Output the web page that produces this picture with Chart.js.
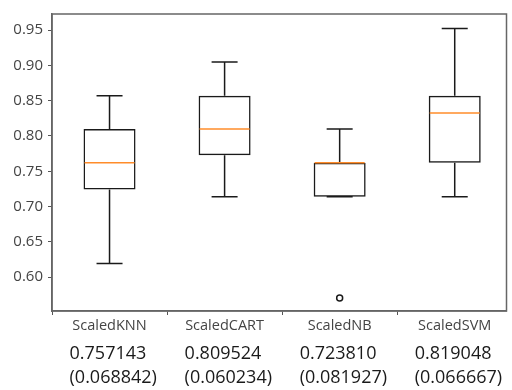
<!DOCTYPE html>
<html><head><meta charset="utf-8">
<script src="https://cdn.jsdelivr.net/npm/chart.js@4"></script>
<style>html,body{margin:0;padding:0;background:#fff;overflow:hidden;width:512px;height:390px}</style>
</head><body><canvas id="c" width="512" height="390"></canvas>
<script>
const categories = ['ScaledKNN','ScaledCART','ScaledNB','ScaledSVM'];
const whiskerLow  = [0.619, 0.714, 0.714, 0.714];
const q1          = [0.724, 0.7726, 0.714, 0.762];
const median      = [0.762, 0.810, 0.762, 0.8325];
const q3          = [0.810, 0.857, 0.762, 0.857];
const whiskerHigh = [0.857, 0.905, 0.810, 0.9524];
const outliers    = [null, null, 0.5704, null];
const means = ['0.757143','0.809524','0.723810','0.819048'];
const stds  = ['(0.068842)','(0.060234)','(0.081927)','(0.066667)'];
const yTicks = [0.60,0.65,0.70,0.75,0.80,0.85,0.90,0.95];
const xPositions = [1,2,3,4];
const yMin = 0.5518, yMax = 0.973;
const xMin = 0.5, xMax = 4.45;

const boxPlugin = {
  id:'boxes',
  afterDatasetsDraw(chart){
    const ctx = chart.ctx, y = chart.scales.y;
    const meta = chart.getDatasetMeta(0);
    ctx.save();
    meta.data.forEach((bar,i)=>{
      const x = bar.x, w = bar.width, half = w/2, cap = w/4;
      ctx.strokeStyle = '#1a1a1a'; ctx.lineWidth = 1.5;
      ctx.beginPath();
      ctx.moveTo(x, y.getPixelForValue(q3[i])); ctx.lineTo(x, y.getPixelForValue(whiskerHigh[i]));
      ctx.moveTo(x, y.getPixelForValue(q1[i])); ctx.lineTo(x, y.getPixelForValue(whiskerLow[i]));
      ctx.moveTo(x-cap, y.getPixelForValue(whiskerHigh[i])); ctx.lineTo(x+cap, y.getPixelForValue(whiskerHigh[i]));
      ctx.moveTo(x-cap, y.getPixelForValue(whiskerLow[i])); ctx.lineTo(x+cap, y.getPixelForValue(whiskerLow[i]));
      ctx.stroke();
      ctx.strokeStyle = '#ff8c2a'; ctx.lineWidth = 1.5;
      ctx.beginPath();
      ctx.moveTo(x-half+1, y.getPixelForValue(median[i])); ctx.lineTo(x+half-1, y.getPixelForValue(median[i]));
      ctx.stroke();
    });
    ctx.restore();
  },
  afterDraw(chart){
    const ctx = chart.ctx, xs = chart.scales.x, a = chart.chartArea;
    ctx.save();
    ctx.strokeStyle = '#666'; ctx.lineWidth = 1.5;
    ctx.strokeRect(a.left, a.top, a.right-a.left, a.bottom-a.top);
    ctx.fillStyle = '#1a1a1a';
    ctx.font = '18px "Open Sans"';
    ctx.textAlign = 'left'; ctx.textBaseline = 'middle';
    categories.forEach((c,i)=>{
      const x = xs.getPixelForValue(xPositions[i]) - 40;
      ctx.fillText(means[i], x, 354);
      ctx.fillText(stds[i], x, 378);
    });
    ctx.restore();
  }
};

new Chart(document.getElementById('c'), {
  type:'bar',
  data:{
    datasets:[
      { data: categories.map((c,i)=>({x:xPositions[i], y:[q1[i], q3[i]]})), backgroundColor:'rgba(255,255,255,0)', borderColor:'#1a1a1a', borderWidth:1.5, borderSkipped:false, barPercentage:0.452, categoryPercentage:1 },
      { type:'line', data: outliers.map((v,i)=>({x:xPositions[i], y:v})), showLine:false, pointRadius:3, pointBorderWidth:1.5, pointBackgroundColor:'#fff', pointBorderColor:'#1a1a1a' }
    ]
  },
  options:{
    responsive:false, animation:false,
    layout:{padding:{top:8,right:2,bottom:0,left:0}},
    plugins:{legend:{display:false}, tooltip:{enabled:false}},
    scales:{
      x:{ type:'linear', min:xMin, max:xMax, offset:false,
        afterBuildTicks(s){ s.ticks = xPositions.map(v=>({value:v})); },
        grid:{display:true, drawOnChartArea:false, drawTicks:true, tickLength:4, color:'#555'},
        border:{display:true,color:'#666',width:1.5},
        ticks:{color:'#444', font:{family:'"Open Sans"', size:14.5}, padding:2, autoSkip:false, maxRotation:0,
               callback:(v)=>categories[xPositions.indexOf(v)]},
        afterFit(s){ s.height = 79; }
      },
      y:{ min:yMin, max:yMax,
        afterBuildTicks(s){ s.ticks = yTicks.map(v=>({value:v})); },
        grid:{display:true, drawOnChartArea:false, drawTicks:true, tickLength:4, color:'#555'},
        border:{display:true,color:'#666',width:1.5},
        ticks:{color:'#444', font:{family:'"Open Sans"', size:15}, padding:5, callback:v=>v.toFixed(2)},
        afterFit(s){ s.width = 52; }
      }
    }
  },
  plugins:[boxPlugin]
});
</script></body></html>
